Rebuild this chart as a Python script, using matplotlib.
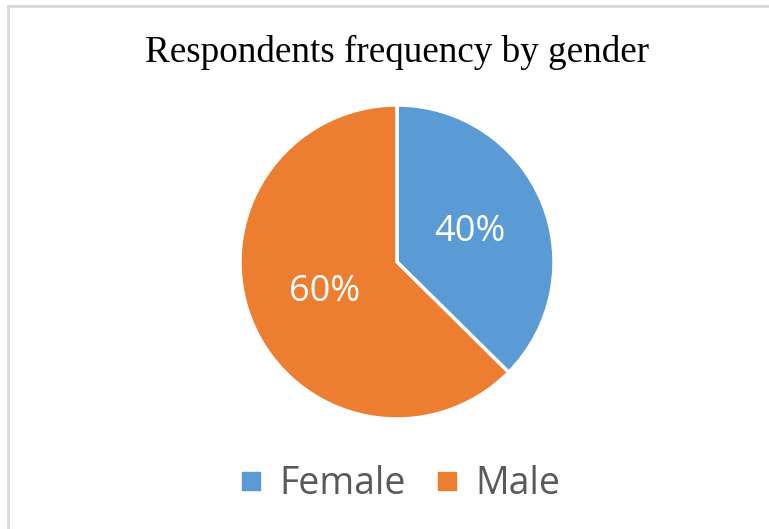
import matplotlib.pyplot as plt
from matplotlib.lines import Line2D

labels = ["Female", "Male"]
shares = [37.4, 62.6]
pct_labels = ["40%", "60%"]
colors = ["#5B9BD5", "#ED7D31"]

W, H = 769, 529
fig = plt.figure(figsize=(W / 100, H / 100), dpi=100)

# pie: centre (397, 262) px, radius ~157 px
cx, cy, r = 397, 262, 157
ax = fig.add_axes([(cx - r) / W, (H - cy - r) / H, 2 * r / W, 2 * r / H])
wedges, texts, autotexts = ax.pie(
    shares, colors=colors, startangle=90, counterclock=False,
    autopct='%d%%', pctdistance=0.5, radius=1,
    wedgeprops=dict(edgecolor='white', linewidth=2.5),
    textprops=dict(color='white', fontsize=26, family='Open Sans'))
for t, s in zip(autotexts, pct_labels):
    t.set_text(s)
ax.set_xlim(-1, 1)
ax.set_ylim(-1, 1)
ax.set_aspect('equal')
ax.axis('off')

fig.text(cx / W, 1 - 62 / H, "Respondents frequency by gender",
         ha='center', va='baseline', fontsize=26.7, family='Liberation Serif',
         color='black')

handles = [Line2D([], [], marker='s', linestyle='none', markersize=13.5,
                  markerfacecolor=c, markeredgecolor=c) for c in colors]
fig.legend(handles, labels, loc='center', bbox_to_anchor=(400 / W, 1 - 484 / H),
           ncol=2, frameon=False, handlelength=0.6, handletextpad=0.45,
           columnspacing=0.8, prop=dict(family='Open Sans', size=27),
           labelcolor='#595959')

# light grey frame (only left and top edges visible in the crop)
frame = dict(color='#D9D9D9', linewidth=2, transform=fig.transFigure)
fig.add_artist(Line2D([8 / W, 8 / W], [0, 1 - 6 / H], **frame))
fig.add_artist(Line2D([8 / W, 1], [1 - 6 / H, 1 - 6 / H], **frame))

fig.savefig('out.png', dpi=100)
